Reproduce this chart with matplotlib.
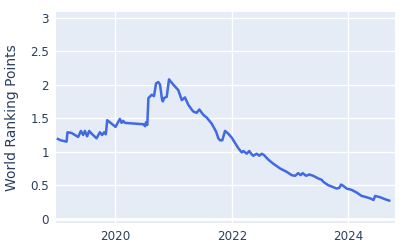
import numpy as np
import pandas as pd
import matplotlib
matplotlib.use("Agg")
import matplotlib.pyplot as plt
import matplotlib.dates as mdates

# Τιμές διαβασμένες από το διάγραμμα (ημερομηνία, βαθμοί)
dates = [
    "2019-01-07", "2019-01-25", "2019-03-02", "2019-03-08", "2019-04-02", "2019-05-14",
    "2019-05-31", "2019-06-14", "2019-06-25", "2019-07-09", "2019-07-22", "2019-08-06",
    "2019-09-06", "2019-09-27", "2019-10-11", "2019-10-24", "2019-11-03", "2019-11-12",
    "2019-11-28", "2019-12-19", "2020-01-03", "2020-01-19", "2020-01-30", "2020-02-10",
    "2020-02-20", "2020-03-02", "2020-06-25", "2020-07-06", "2020-07-12", "2020-07-20",
    "2020-07-27", "2020-08-17", "2020-08-31", "2020-09-13", "2020-09-27", "2020-10-08",
    "2020-10-19", "2020-10-25", "2020-11-02", "2020-11-19", "2020-12-03", "2020-12-30",
    "2021-01-30", "2021-02-21", "2021-03-13", "2021-04-03", "2021-04-24", "2021-05-04",
    "2021-05-25", "2021-06-11", "2021-07-06", "2021-07-27", "2021-08-27", "2021-09-24",
    "2021-10-08", "2021-10-19", "2021-11-02", "2021-11-08", "2021-11-19", "2021-12-09",
    "2021-12-31", "2022-01-21", "2022-02-11", "2022-03-04", "2022-03-14", "2022-04-04",
    "2022-04-20", "2022-05-05", "2022-05-15", "2022-06-05", "2022-06-22", "2022-07-07",
    "2022-07-21", "2022-08-18", "2022-09-18", "2022-10-30", "2022-12-10", "2023-01-11",
    "2023-02-01", "2023-02-21", "2023-03-08", "2023-03-21", "2023-04-11", "2023-05-01",
    "2023-05-26", "2023-06-27", "2023-07-18", "2023-07-28", "2023-08-28", "2023-09-29",
    "2023-10-20", "2023-11-05", "2023-11-16", "2023-11-30", "2023-12-21", "2024-01-22",
    "2024-02-22", "2024-03-24", "2024-04-25", "2024-05-20", "2024-06-06", "2024-06-17",
    "2024-07-18", "2024-08-19", "2024-09-13",
]
points = [
    1.19, 1.17, 1.15, 1.29, 1.28, 1.22,
    1.31, 1.25, 1.31, 1.23, 1.31, 1.27,
    1.20, 1.29, 1.25, 1.29, 1.26, 1.47,
    1.44, 1.40, 1.37, 1.44, 1.49, 1.43,
    1.46, 1.43, 1.41, 1.38, 1.44, 1.40,
    1.80, 1.85, 1.83, 2.02, 2.04, 2.00,
    1.80, 1.75, 1.80, 1.82, 2.08, 2.00,
    1.92, 1.77, 1.81, 1.70, 1.63, 1.60,
    1.58, 1.63, 1.55, 1.51, 1.42, 1.30,
    1.20, 1.17, 1.17, 1.22, 1.31, 1.27,
    1.21, 1.13, 1.05, 0.99, 1.01, 0.97,
    1.01, 0.96, 0.94, 0.97, 0.94, 0.97,
    0.95, 0.88, 0.82, 0.75, 0.70, 0.65,
    0.64, 0.68, 0.65, 0.68, 0.64, 0.66,
    0.64, 0.60, 0.58, 0.55, 0.50, 0.47,
    0.45, 0.46, 0.51, 0.49, 0.45, 0.43,
    0.39, 0.34, 0.32, 0.30, 0.28, 0.34,
    0.32, 0.29, 0.27,
]
ytick_values = [0, 0.5, 1, 1.5, 2, 2.5, 3]
ytick_labels = ["0", "0.5", "1", "1.5", "2", "2.5", "3"]
xtick_years = [2020, 2022, 2024]

df = pd.DataFrame({"date": pd.to_datetime(dates), "points": points})

text_color = "#2a3f5f"

fig = plt.figure(figsize=(4, 2.5), dpi=100)
ax = fig.add_axes([0.14, 0.108, 0.8475, 0.844])
ax.set_facecolor("#E5ECF6")

ax.plot(df["date"], df["points"], color="#4169E1", linewidth=1.8, zorder=3)

ax.set_xlim(pd.Timestamp("2018-12-26"), pd.Timestamp("2024-10-19"))
ax.set_ylim(-0.064, 3.085)

ax.set_yticks(ytick_values)
ax.set_yticklabels(ytick_labels)
ax.set_xticks([pd.Timestamp(f"{y}-01-01") for y in xtick_years])
ax.xaxis.set_major_formatter(mdates.DateFormatter("%Y"))

ax.grid(True, color="white", linewidth=1.0, zorder=1)
ax.axhline(0, color="white", linewidth=2.0, zorder=2)
ax.set_axisbelow(True)

for s in ax.spines.values():
    s.set_visible(False)
ax.tick_params(length=0, labelsize=8.6, labelcolor=text_color, pad=5)

ax.set_ylabel("World Ranking Points", fontsize=10, color=text_color, labelpad=8)

fig.savefig("out.png", dpi=100)
